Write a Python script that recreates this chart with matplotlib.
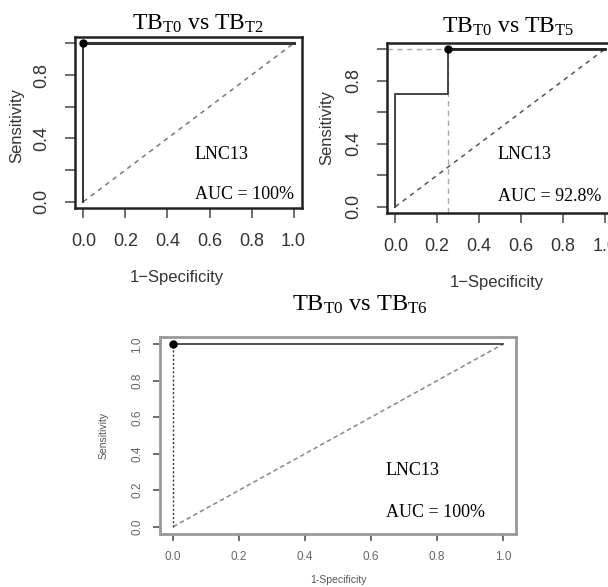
import matplotlib
matplotlib.use("Agg")
import matplotlib.pyplot as plt
import numpy as np

plt.rcParams["mathtext.fontset"] = "custom"
plt.rcParams["mathtext.rm"] = "Liberation Serif"
plt.rcParams["mathtext.it"] = "Liberation Serif:italic"

W, H = 608, 587
SANS = ["Liberation Sans Narrow", "Liberation Sans", "DejaVu Sans"]
SERIF = ["Liberation Serif", "DejaVu Serif"]

# ROC data (1-specificity, sensitivity)
fpr_t2 = [0.0, 0.0, 1.0]
tpr_t2 = [0.0, 1.0, 1.0]
best_t2 = (0.0, 1.0)

fpr_t5 = [0.0, 0.0, 0.25, 0.25, 1.0]
tpr_t5 = [0.0, 0.714, 0.714, 1.0, 1.0]
best_t5 = (0.25, 1.0)

fpr_t6 = [0.0, 1.0]
tpr_t6 = [1.0, 1.0]
best_t6 = (0.0, 1.0)

titles = ["TB$_{\\mathrm{T0}}$ vs TB$_{\\mathrm{T2}}$",
          "TB$_{\\mathrm{T0}}$ vs TB$_{\\mathrm{T5}}$",
          "TB$_{\\mathrm{T0}}$ vs TB$_{\\mathrm{T6}}$"]
auc_labels = ["AUC = 100%", "AUC = 92.8%", "AUC = 100%"]
marker_name = "LNC13"
ticks = [0.0, 0.2, 0.4, 0.6, 0.8, 1.0]


def box(l, t, r, b):
    return [l / W, 1 - b / H, (r - l) / W, (b - t) / H]


def fx(x):
    return x / W


def fy(y):
    return 1 - y / H


fig = plt.figure(figsize=(W / 100, H / 100), dpi=100)


def setup(ax, ylabels_all, lab_size, lab_color, frame_color, frame_lw, tick_len, pad):
    ax.set_xlim(-0.04, 1.04)
    ax.set_ylim(-0.04, 1.04)
    ax.set_xticks(ticks)
    ax.set_yticks(ticks)
    ax.set_xticklabels([f"{t:.1f}" for t in ticks])
    if ylabels_all:
        ax.set_yticklabels([f"{t:.1f}" for t in ticks])
    else:
        ax.set_yticklabels([f"{t:.1f}" if i % 2 == 0 and t < 0.9 else "" for i, t in enumerate(ticks)])
    for lab in ax.get_yticklabels():
        lab.set_rotation(90)
        lab.set_va("center")
    for lab in ax.get_xticklabels() + ax.get_yticklabels():
        lab.set_family(SANS)
        lab.set_fontsize(lab_size)
        lab.set_color(lab_color)
    ax.tick_params(length=tick_len, width=1.2, color="#555555", pad=pad)
    for s in ax.spines.values():
        s.set_color(frame_color)
        s.set_linewidth(frame_lw)


# ---- panel 1 ----
ax1 = fig.add_axes(box(75, 37, 302, 208))
setup(ax1, False, 13, "#333333", "#222222", 1.8, 7, 11)
ax1.plot([0, 1], [0, 1], ls=(0, (3, 3)), color="#777777", lw=1.1)
ax1.plot(fpr_t2, tpr_t2, color="#333333", lw=1.4)
ax1.plot([0, 1], [1, 1], color="#333333", lw=2.2)
ax1.plot(*best_t2, "o", color="black", ms=5)
ax1.text(0.53, 0.30, marker_name, family=SERIF, fontsize=13, va="center")
ax1.text(0.53, 0.045, auc_labels[0], family=SERIF, fontsize=13, va="center")
fig.text(fx(198), fy(24), titles[0], family=SERIF, fontsize=17, ha="center", va="center")
fig.text(fx(177), fy(278), "1\u2212Specificity", family=SANS, fontsize=12, color="#333333",
         ha="center", va="center")
fig.text(fx(17), fy(125), "Sensitivity", family=SANS, fontsize=12, color="#333333",
         ha="center", va="center", rotation=90)

# ---- panel 2 ----
ax2 = fig.add_axes(box(387, 43, 613, 213))
setup(ax2, False, 13, "#333333", "#222222", 1.8, 7, 11)
ax2.plot([0, 1], [0, 1], ls=(0, (3, 3)), color="#555555", lw=1.1)
ax2.plot([-0.04, best_t5[0]], [best_t5[1], best_t5[1]], ls=(0, (4, 3)), color="#aaaaaa", lw=1)
ax2.plot([best_t5[0], best_t5[0]], [-0.04, best_t5[1]], ls=(0, (4, 3)), color="#aaaaaa", lw=1)
ax2.plot(fpr_t5, tpr_t5, color="#444444", lw=1.4)
ax2.plot(fpr_t5[3:], tpr_t5[3:], color="#222222", lw=2)
ax2.plot(*best_t5, "o", color="black", ms=5)
ax2.text(0.49, 0.33, marker_name, family=SERIF, fontsize=13, va="center")
ax2.text(0.49, 0.063, auc_labels[1], family=SERIF, fontsize=13, va="center")
fig.text(fx(508), fy(27), titles[1], family=SERIF, fontsize=17, ha="center", va="center")
fig.text(fx(497), fy(283), "1\u2212Specificity", family=SANS, fontsize=12, color="#333333",
         ha="center", va="center")
fig.text(fx(327), fy(127), "Sensitivity", family=SANS, fontsize=12, color="#333333",
         ha="center", va="center", rotation=90)

# ---- panel 3 ----
ax3 = fig.add_axes(box(160, 337, 516, 534))
setup(ax3, True, 8.5, "#666666", "#999999", 2.0, 5, 7)
ax3.plot([0, 1], [0, 1], ls=(0, (3, 2)), color="#888888", lw=1.1)
ax3.plot([0, 0], [0, 1], ls=(0, (1.5, 1.5)), color="#333333", lw=1)
ax3.plot(fpr_t6, tpr_t6, color="#333333", lw=1.2)
ax3.plot(*best_t6, "o", color="black", ms=5)
ax3.text(0.645, 0.306, marker_name, family=SERIF, fontsize=13, va="center")
ax3.text(0.645, 0.077, auc_labels[2], family=SERIF, fontsize=13, va="center")
fig.text(fx(360), fy(305), titles[2], family=SERIF, fontsize=17.5, ha="center", va="center")
fig.text(fx(338), fy(580), "1-Specificity", family=["Liberation Sans", "DejaVu Sans"],
         fontsize=7.5, color="#555555", ha="center", va="center")
fig.text(fx(104), fy(435), "Sensitivity", family=["Liberation Sans", "DejaVu Sans"],
         fontsize=7.5, color="#555555", ha="center", va="center", rotation=90)

fig.savefig("out.png", dpi=100)
